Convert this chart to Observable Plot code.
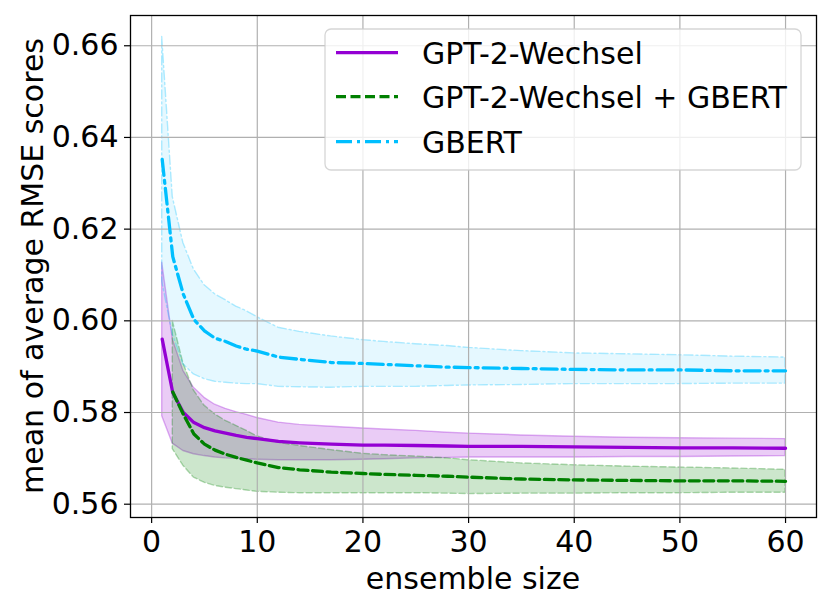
<!DOCTYPE html>
<html>
<head>
<meta charset="utf-8">
<script src="https://cdn.jsdelivr.net/npm/d3@7"></script>
<script src="https://cdn.jsdelivr.net/npm/@observablehq/plot@0.6"></script>
<style>
  body { margin: 0; background: #fff; }
  #chart { width: 830px; height: 610px; }
  svg { font-family: "DejaVu Sans", sans-serif; }
</style>
</head>
<body>
<div id="chart"></div>
<script>
// ensemble sizes (x)
const sizes = [1,2,3,4,5,6,7,8,9,10,12,14,17,20,22,25,28,30,35,40,45,50,55,60];
const sizesCombo = sizes.slice(1);

// GPT-2-Wechsel
const wechselMean = [0.5960,0.5843,0.5800,0.5778,0.5767,0.5760,0.5755,0.5750,0.5746,0.5743,0.5737,0.5734,0.5731,0.5729,0.5729,0.5728,0.5727,0.5726,0.5726,0.5725,0.5724,0.5723,0.5723,0.5722];
const wechselHi   = [0.6127,0.5960,0.5891,0.5854,0.5832,0.5817,0.5808,0.5801,0.5795,0.5788,0.5778,0.5773,0.5769,0.5765,0.5763,0.5760,0.5756,0.5754,0.5750,0.5747,0.5745,0.5744,0.5743,0.5742];
const wechselLo   = [0.5792,0.5732,0.5716,0.5709,0.5705,0.5702,0.5700,0.5699,0.5698,0.5697,0.5696,0.5696,0.5696,0.5697,0.5698,0.5700,0.5701,0.5702,0.5702,0.5702,0.5703,0.5703,0.5704,0.5705];

// GPT-2-Wechsel + GBERT (from size 2)
const comboMean = [0.5845,0.5796,0.5753,0.5731,0.5718,0.5709,0.5702,0.5696,0.5690,0.5680,0.5675,0.5670,0.5667,0.5665,0.5663,0.5661,0.5659,0.5655,0.5653,0.5652,0.5651,0.5651,0.5650];
const comboHi   = [0.6000,0.5908,0.5848,0.5815,0.5796,0.5782,0.5771,0.5760,0.5748,0.5734,0.5727,0.5718,0.5710,0.5707,0.5704,0.5700,0.5696,0.5689,0.5685,0.5682,0.5680,0.5678,0.5675];
const comboLo   = [0.5720,0.5684,0.5658,0.5647,0.5640,0.5636,0.5633,0.5630,0.5627,0.5625,0.5624,0.5624,0.5624,0.5624,0.5624,0.5623,0.5622,0.5623,0.5623,0.5624,0.5624,0.5625,0.5625];

// GBERT
const gbertMean = [0.6352,0.6140,0.6058,0.6003,0.5978,0.5962,0.5955,0.5945,0.5938,0.5934,0.5921,0.5916,0.5909,0.5907,0.5905,0.5902,0.5899,0.5898,0.5896,0.5894,0.5893,0.5893,0.5891,0.5891];
const gbertHi   = [0.6619,0.6270,0.6170,0.6112,0.6078,0.6058,0.6045,0.6031,0.6021,0.6008,0.5985,0.5976,0.5966,0.5958,0.5954,0.5949,0.5945,0.5941,0.5934,0.5929,0.5927,0.5925,0.5922,0.5920];
const gbertLo   = [0.6085,0.5970,0.5905,0.5883,0.5873,0.5867,0.5865,0.5863,0.5862,0.5862,0.5856,0.5855,0.5854,0.5856,0.5856,0.5856,0.5858,0.5859,0.5860,0.5862,0.5862,0.5862,0.5863,0.5863];

const xTicks = [0,10,20,30,40,50,60];
const yTicks = [0.56,0.58,0.60,0.62,0.64,0.66];
const seriesNames = ["GPT-2-Wechsel", "GPT-2-Wechsel + GBERT", "GBERT"];
const seriesColors = ["#9400D3", "#008000", "#00BFFF"];
const seriesDash = [null, "10,4.5", "16,5,3,5"];
const bandDash = [null, "6,3", "9,3,2,3"];

const rows = (xs, m, lo, hi) => xs.map((x, i) => ({x, m: m[i], lo: lo[i], hi: hi[i]}));
const data = [
  rows(sizes, wechselMean, wechselLo, wechselHi),
  rows(sizesCombo, comboMean, comboLo, comboHi),
  rows(sizes, gbertMean, gbertLo, gbertHi)
];
const bandOpacity = [0.2, 0.2, 0.1];
const FS = 30;

const marks = [];
data.forEach((d, i) => {
  marks.push(Plot.areaY(d, {x: "x", y1: "lo", y2: "hi", fill: seriesColors[i], fillOpacity: bandOpacity[i],
    stroke: seriesColors[i], strokeOpacity: 0.3, strokeWidth: 1.4, strokeDasharray: bandDash[i]}));
});
marks.push(Plot.gridX(xTicks, {stroke: "#b0b0b0", strokeOpacity: 1, strokeWidth: 1.2}));
marks.push(Plot.gridY(yTicks, {stroke: "#b0b0b0", strokeOpacity: 1, strokeWidth: 1.2}));
data.forEach((d, i) => {
  marks.push(Plot.lineY(d, {x: "x", y: "m", stroke: seriesColors[i], strokeWidth: 3.3, strokeDasharray: seriesDash[i]}));
});
marks.push(Plot.axisX(xTicks, {tickSize: 6, tickPadding: 7, fontSize: FS, tickFormat: d => String(d), label: null, stroke: "black", strokeWidth: 1.2}));
marks.push(Plot.axisY(yTicks, {tickSize: 6, tickPadding: 6, fontSize: FS, tickFormat: d => d.toFixed(2), label: null, stroke: "black", strokeWidth: 1.2}));
marks.push(Plot.frame({stroke: "black", strokeWidth: 1.3}));

const chart = Plot.plot({
  width: 830,
  height: 610,
  marginLeft: 130,
  marginRight: 14,
  marginTop: 15,
  marginBottom: 93,
  x: {domain: [-2.0, 62.93]},
  y: {domain: [0.5571, 0.6666]},
  style: {fontFamily: "DejaVu Sans, sans-serif", color: "black", background: "white"},
  marks
});
document.getElementById("chart").appendChild(chart);

// axis titles and legend
const svg = d3.select(chart);
svg.append("text").attr("x", 473).attr("y", 589).attr("text-anchor", "middle")
  .attr("font-size", FS).attr("fill", "black").text("ensemble size");
svg.append("text").attr("transform", "translate(43,266) rotate(-90)").attr("text-anchor", "middle")
  .attr("font-size", FS).attr("fill", "black").text("mean of average RMSE scores");

const lg = svg.append("g");
lg.append("rect").attr("x", 325).attr("y", 29).attr("width", 476).attr("height", 141).attr("rx", 6)
  .attr("fill", "white").attr("fill-opacity", 0.8).attr("stroke", "#cccccc").attr("stroke-opacity", 0.8).attr("stroke-width", 1.3);
const rowsY = [52.7, 96.7, 141.7];
seriesNames.forEach((name, i) => {
  lg.append("line").attr("x1", 336).attr("x2", 398).attr("y1", rowsY[i]).attr("y2", rowsY[i])
    .attr("stroke", seriesColors[i]).attr("stroke-width", 3.3).attr("stroke-dasharray", seriesDash[i]);
  lg.append("text").attr("x", 422).attr("y", rowsY[i] + 11).attr("text-anchor", "start")
    .attr("font-size", FS).attr("fill", "black").text(name);
});
</script>
</body>
</html>
